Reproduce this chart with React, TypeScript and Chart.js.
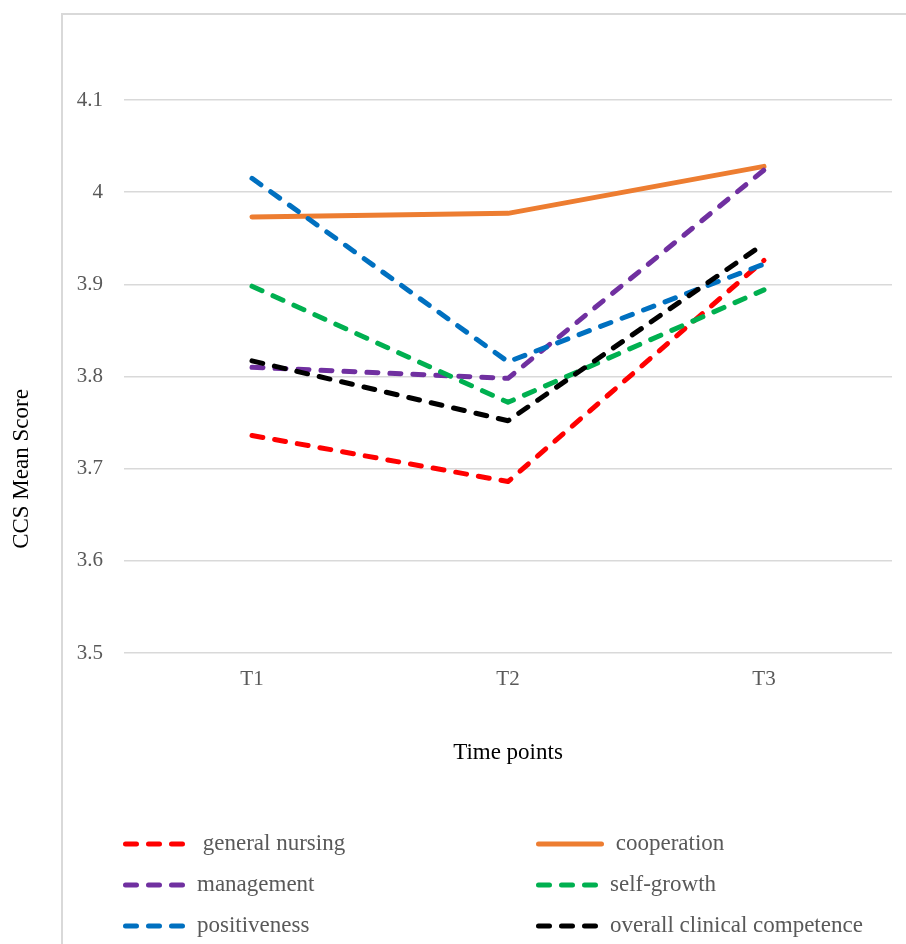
import React, { useEffect, useRef } from "react";
import { Chart, registerables } from "chart.js";

Chart.register(...registerables);

const categories = ["T1", "T2", "T3"];
const generalNursing = [3.736, 3.686, 3.926];
const cooperation = [3.973, 3.977, 4.028];
const management = [3.81, 3.798, 4.024];
const selfGrowth = [3.898, 3.772, 3.894];
const positiveness = [4.015, 3.816, 3.922];
const overall = [3.817, 3.752, 3.944];

const seriesLabels = [
  " general nursing",
  " cooperation",
  "management",
  "self-growth",
  "positiveness",
  "overall clinical competence",
];
const seriesColors = ["#FF0000", "#ED7D31", "#7030A0", "#00B050", "#0070C0", "#000000"];
const seriesDashed = [true, false, true, true, true, true];

const yMin = 3.5;
const yMax = 4.1;
const yStep = 0.1;
const xTitle = "Time points";
const yTitle = "CCS Mean Score";

const FONT = '"Liberation Serif", "Times New Roman", serif';
const DASH = [11, 12];

const customPlugin = {
  id: "customDecor",
  afterDraw(chart: any) {
    const ctx = chart.ctx as CanvasRenderingContext2D;
    // y-axis title
    ctx.save();
    ctx.translate(22, 469);
    ctx.rotate(-Math.PI / 2);
    ctx.font = `23px ${FONT}`;
    ctx.fillStyle = "#000000";
    ctx.textAlign = "center";
    ctx.textBaseline = "middle";
    ctx.fillText(yTitle, 0, 0);
    ctx.restore();

    // legend (2 columns x 3 rows)
    const colX = [123, 536];
    const rowY = [844, 885, 926];
    chart.data.datasets.forEach((ds: any, i: number) => {
      const col = i % 2;
      const row = Math.floor(i / 2);
      const x = colX[col];
      const y = rowY[row];
      ctx.save();
      ctx.strokeStyle = ds.borderColor;
      ctx.lineWidth = 5;
      ctx.lineCap = "round";
      ctx.setLineDash(ds.borderDash && ds.borderDash.length ? ds.borderDash : []);
      ctx.beginPath();
      if (ds.borderDash && ds.borderDash.length) {
        ctx.moveTo(x + 2.5, y);
        ctx.lineTo(x + 59.5, y);
      } else {
        ctx.moveTo(x + 2.5, y);
        ctx.lineTo(x + 65.5, y);
      }
      ctx.stroke();
      ctx.restore();
      ctx.save();
      ctx.font = `23px ${FONT}`;
      ctx.fillStyle = "#595959";
      ctx.textAlign = "left";
      ctx.textBaseline = "middle";
      ctx.fillText(ds.label, x + 74, y);
      ctx.restore();
    });
  },
};

export default function App() {
  const canvasRef = useRef<HTMLCanvasElement | null>(null);

  useEffect(() => {
    if (!canvasRef.current) return;
    const seriesData = [generalNursing, cooperation, management, selfGrowth, positiveness, overall];
    const chart = new Chart(canvasRef.current, {
      type: "line",
      data: {
        labels: categories,
        datasets: seriesData.map((d, i) => ({
          label: seriesLabels[i],
          data: d,
          borderColor: seriesColors[i],
          backgroundColor: seriesColors[i],
          borderWidth: 5,
          borderDash: seriesDashed[i] ? DASH : [],
          borderCapStyle: "round",
          borderJoinStyle: "round",
          pointRadius: 0,
          pointHoverRadius: 0,
          tension: 0,
          fill: false,
          order: seriesData.length - i,
        })),
      },
      options: {
        animation: false,
        responsive: false,
        maintainAspectRatio: false,
        events: [],
        layout: { padding: { left: 0, right: 14, top: 100, bottom: 171 } },
        plugins: {
          legend: { display: false },
          tooltip: { enabled: false },
          title: { display: false },
        },
        scales: {
          x: {
            offset: true,
            grid: { display: false, drawTicks: false },
            border: { display: false },
            ticks: {
              font: { family: FONT, size: 21 },
              color: "#595959",
              padding: 14,
            },
            title: {
              display: true,
              text: xTitle,
              font: { family: FONT, size: 23 },
              color: "#000000",
              padding: { top: 0, bottom: 6 },
            },
            afterFit: (s: any) => {
              s.height = 120;
            },
          },
          y: {
            min: yMin,
            max: yMax,
            grid: { color: "#d9d9d9", lineWidth: 1.5, drawTicks: false },
            border: { display: false },
            ticks: {
              stepSize: yStep,
              font: { family: FONT, size: 21 },
              color: "#595959",
              padding: 21,
              callback: (v: any) => String(Number(Number(v).toFixed(1))),
            },
            afterFit: (s: any) => {
              s.width = 124;
            },
          },
        },
      },
      plugins: [customPlugin],
    });
    return () => chart.destroy();
  }, []);

  return (
    <div
      style={{
        position: "fixed",
        left: 0,
        top: 0,
        width: 906,
        height: 944,
        background: "#ffffff",
        overflow: "hidden",
      }}
    >
      <div
        style={{
          position: "absolute",
          left: 61,
          top: 13,
          width: 1000,
          height: 1100,
          border: "2px solid #d9d9d9",
          boxSizing: "border-box",
        }}
      />
      <canvas
        ref={canvasRef}
        width={906}
        height={944}
        style={{ position: "absolute", left: 0, top: 0, width: 906, height: 944 }}
      />
    </div>
  );
}
